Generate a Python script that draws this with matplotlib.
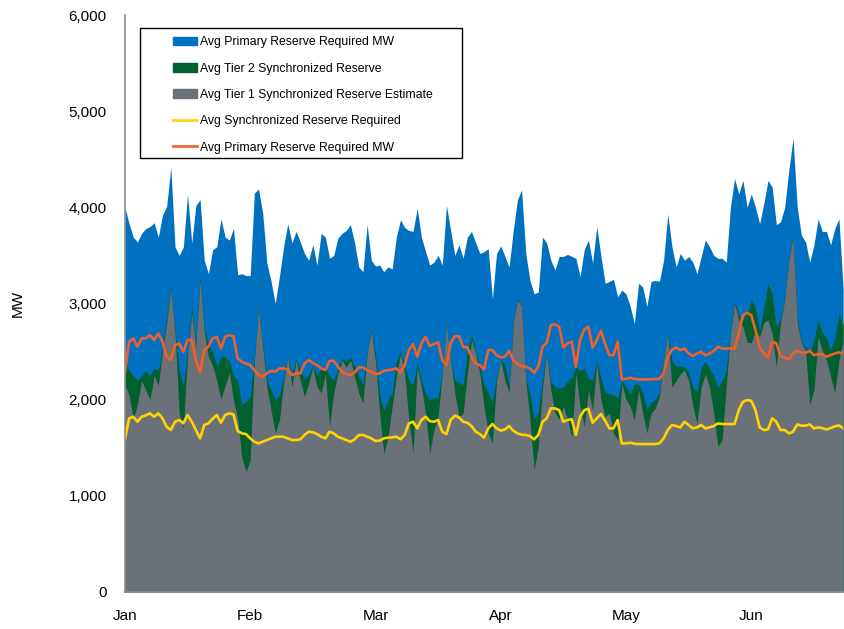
import matplotlib
matplotlib.use("Agg")
import matplotlib.pyplot as plt
from matplotlib.patches import Rectangle, Patch
from matplotlib.lines import Line2D
from matplotlib.ticker import FuncFormatter
import numpy as np

plt.rcParams['font.family'] = ['Liberation Sans', 'DejaVu Sans']

# daily values, Jan 1 onwards (MW)
primary_top = [4000, 3830, 3690, 3640, 3730, 3780, 3800, 3840, 3690, 3920, 4010, 4420, 3590, 3500, 3590, 4140, 3630, 4020, 4080, 3450,
               3310, 3560, 3590, 3880, 3690, 3660, 3780, 3300, 3310, 3290,
               3290, 4150, 4190, 3940, 3420, 3230, 3000, 3280, 3590, 3830, 3630, 3750, 3640, 3520, 3450, 3610, 3400, 3730, 3690, 3470,
               3500, 3680, 3730, 3760, 3820, 3630, 3380, 3330, 3820, 3450,
               3390, 3400, 3330, 3380, 3360, 3690, 3870, 3790, 3760, 3750, 3990, 3690, 3540, 3400, 3430, 3500, 3400, 4020, 3760, 3500,
               3610, 3470, 3690, 3750, 3630, 3520, 3540, 3570, 3050, 3520,
               3600, 3490, 3380, 3760, 4080, 4180, 3520, 3240, 3100, 3120, 3690, 3630, 3450, 3350, 3490, 3490, 3510, 3490, 3470, 3280,
               3560, 3660, 3420, 3800, 3490, 3210, 3230, 3250, 3070, 3140,
               3100, 2970, 2790, 3210, 3170, 2970, 3230, 3240, 3230, 3450, 3930, 3590, 3380, 3520, 3450, 3490, 3430, 3310, 3490, 3660,
               3590, 3500, 3470, 3470, 3430, 4000, 4300, 4140, 4280, 4000,
               4140, 4000, 3830, 4040, 4280, 4210, 3820, 3850, 4000, 4390, 4720, 4000, 3710, 3640, 3430, 3610, 3880, 3750, 3750, 3610,
               3780, 3880, 3150]

tier2_top = [2400, 2300, 2250, 2200, 2250, 2300, 2250, 2330, 2300, 2550, 2850, 3170, 2750, 2300, 2150, 2500, 2950, 2600, 3280, 2750,
             2570, 2500, 2350, 2450, 2450, 2400, 2250, 2200, 1950, 1980,
             2030, 2450, 2960, 2600, 2200, 2100, 2000, 2050, 2230, 2460, 2250, 2430, 2300, 2220, 2250, 2360, 2250, 2330, 2330, 2250,
             2200, 2330, 2430, 2400, 2440, 2350, 2250, 2150, 2500, 2740,
             2480, 2050, 1890, 2000, 2070, 2400, 2500, 2350, 2200, 2150, 2380, 2200, 2060, 2000, 2020, 2020, 2300, 2800, 2420, 2200,
             2180, 2150, 2500, 2680, 2500, 2340, 2150, 2080, 1970, 2230,
             2420, 2360, 2150, 2800, 3050, 2980, 2230, 2050, 1800, 1870, 2200, 2490, 2180, 2140, 2120, 2130, 2200, 2230, 2340, 2300,
             2330, 2220, 2200, 2400, 2220, 2080, 2060, 2050, 2020, 2200,
             2130, 2060, 2160, 2160, 2070, 1900, 1970, 2000, 2080, 2420, 2700, 2400, 2350, 2350, 2340, 2280, 2130, 2080, 2330, 2400,
             2320, 2250, 2130, 2200, 2300, 2720, 3020, 2880, 2830, 2900,
             3040, 2950, 2720, 2950, 3210, 3100, 2760, 2840, 3050, 3460, 3700, 2860, 2600, 2550, 2480, 2620, 2830, 2700, 2640, 2520,
             2640, 2900, 2780]

tier1_top = [2150, 2050, 1800, 1950, 2200, 2100, 2000, 2250, 2150, 2500, 2800, 3150, 2700, 1850, 1700, 2450, 2900, 2550, 3250, 2700,
             2450, 2350, 2200, 2000, 2150, 2280, 2000, 1800, 1400, 1250,
             1370, 2400, 2950, 2550, 2130, 1890, 1650, 1790, 2170, 2450, 2130, 2410, 2200, 2030, 2170, 2340, 2130, 2070, 2270, 1720,
             2070, 2270, 2410, 2340, 2410, 2240, 2070, 1960, 2480, 2720,
             2400, 1860, 1440, 1610, 1930, 2240, 2480, 2270, 1790, 1440, 2340, 2130, 1860, 1440, 1680, 1820, 2270, 2790, 2410, 2070,
             1820, 1860, 2270, 2620, 2480, 2270, 1930, 1650, 1550, 2200,
             2410, 2200, 2070, 2790, 3040, 2970, 2200, 1790, 1270, 1510, 2130, 2480, 2100, 1860, 1800, 1930, 1790, 1610, 2270, 1930,
             1720, 2100, 1890, 2380, 2000, 1820, 1860, 1650, 1580, 2170,
             2000, 1930, 1790, 2100, 1860, 1650, 1860, 1910, 2030, 2410, 2690, 2130, 2200, 2270, 2310, 2200, 1930, 1750, 2130, 2270,
             2130, 1860, 1510, 1580, 2130, 2690, 3000, 2830, 2760, 2600,
             2590, 2720, 2650, 2800, 2830, 2690, 2340, 2800, 3040, 3450, 3690, 2800, 2590, 2510, 1950, 2100, 2650, 2510, 2410, 2240,
             2070, 2410, 2620]

sync_required = [1580, 1805, 1822, 1770, 1822, 1836, 1857, 1822, 1857, 1805, 1718, 1684, 1770, 1788, 1753, 1840, 1770, 1684, 1597, 1736,
                 1753, 1800, 1840, 1760, 1840, 1857, 1846, 1673, 1649, 1642,
                 1597, 1562, 1545, 1562, 1580, 1597, 1614, 1614, 1614, 1597, 1580, 1580, 1587, 1632, 1666, 1660, 1642, 1614, 1597, 1666,
                 1649, 1614, 1597, 1580, 1562, 1587, 1632, 1632, 1614, 1597,
                 1569, 1573, 1597, 1604, 1607, 1614, 1587, 1632, 1753, 1770, 1701, 1788, 1822, 1777, 1770, 1788, 1666, 1642, 1788, 1833,
                 1815, 1770, 1760, 1725, 1666, 1642, 1604, 1701, 1746, 1701,
                 1677, 1690, 1725, 1677, 1649, 1635, 1632, 1621, 1587, 1632, 1770, 1805, 1909, 1909, 1891, 1770, 1788, 1798, 1632, 1822,
                 1891, 1905, 1760, 1805, 1850, 1780, 1701, 1701, 1788, 1545,
                 1545, 1552, 1541, 1538, 1538, 1538, 1538, 1538, 1545, 1597, 1684, 1736, 1725, 1711, 1770, 1736, 1701, 1711, 1736, 1701,
                 1711, 1725, 1753, 1746, 1746, 1746, 1746, 1891, 1978, 1995,
                 1988, 1891, 1711, 1684, 1690, 1805, 1770, 1684, 1684, 1649, 1666, 1742, 1729, 1729, 1742, 1701, 1711, 1704, 1690, 1704,
                 1722, 1732, 1701]

primary_required = [2280, 2602, 2637, 2550, 2637, 2637, 2671, 2620, 2689, 2602, 2446, 2411, 2567, 2585, 2498, 2620, 2620, 2411, 2280, 2515,
                    2550, 2637, 2654, 2532, 2654, 2671, 2660, 2428, 2394, 2376,
                    2359, 2307, 2255, 2238, 2273, 2300, 2290, 2325, 2325, 2314, 2255, 2273, 2273, 2376, 2411, 2383, 2359, 2325, 2307, 2404,
                    2404, 2342, 2290, 2266, 2255, 2283, 2335, 2335, 2307, 2290,
                    2266, 2273, 2300, 2307, 2314, 2325, 2280, 2359, 2515, 2578, 2446, 2585, 2654, 2557, 2578, 2598, 2411, 2359, 2585, 2660,
                    2660, 2550, 2543, 2446, 2376, 2359, 2314, 2515, 2515, 2463,
                    2440, 2446, 2508, 2411, 2370, 2349, 2342, 2325, 2280, 2342, 2550, 2591, 2775, 2785, 2758, 2543, 2585, 2602, 2342, 2620,
                    2730, 2758, 2543, 2620, 2716, 2578, 2463, 2463, 2602, 2210,
                    2217, 2228, 2217, 2210, 2210, 2210, 2210, 2214, 2217, 2273, 2439, 2522, 2543, 2515, 2532, 2480, 2453, 2480, 2498, 2460,
                    2480, 2505, 2550, 2532, 2532, 2532, 2532, 2688, 2879, 2903,
                    2879, 2723, 2540, 2480, 2439, 2602, 2585, 2453, 2439, 2418, 2480, 2508, 2491, 2487, 2508, 2463, 2474, 2474, 2446, 2463,
                    2480, 2491, 2480]

month_labels = ['Jan', 'Feb', 'Mar', 'Apr', 'May', 'Jun']

c_blue = '#0070C0'
c_green = '#00602F'
c_gray = '#6B7179'
c_yellow = '#FFD200'
c_orange = '#F0602A'

days = np.arange(len(primary_top))

fig = plt.figure(figsize=(8.44, 6.29), dpi=100)
ax = fig.add_axes([0.148, 0.059, 0.851, 0.917])

ax.fill_between(days, 0, primary_top, color=c_blue, lw=0)
ax.fill_between(days, 0, tier2_top, color=c_green, lw=0)
ax.fill_between(days, 0, tier1_top, color=c_gray, lw=0)
ax.plot(days, sync_required, color=c_yellow, lw=1.9)
ax.plot(days, primary_required, color=c_orange, lw=1.9)

ax.set_xlim(0, len(days) - 1)
ax.set_ylim(0, 6000)
ax.set_yticks(range(0, 6001, 1000))
ax.yaxis.set_major_formatter(FuncFormatter(lambda v, p: f'{int(v):,}'))
ax.set_xticks(range(0, 30 * len(month_labels), 30))
ax.set_xticklabels(month_labels)
ax.tick_params(axis='both', length=0, labelsize=11, colors='black')
ax.tick_params(axis='y', pad=13)
ax.tick_params(axis='x', pad=12)

for s in ['top', 'right']:
    ax.spines[s].set_visible(False)
for s in ['left', 'bottom']:
    ax.spines[s].set_color('#8C8C8C')
    ax.spines[s].set_linewidth(1.2)

fig.text(18 / 844, 1 - 303 / 629, 'MW', rotation=90, ha='center', va='center', fontsize=11)

handles = [Patch(color=c_blue), Patch(color=c_green), Patch(color=c_gray),
           Line2D([], [], color=c_yellow, lw=1.9), Line2D([], [], color=c_orange, lw=1.9)]
labels = ['Avg Primary Reserve Required MW', 'Avg Tier 2 Synchronized Reserve',
          'Avg Tier 1 Synchronized Reserve Estimate', 'Avg Synchronized Reserve Required',
          'Avg Primary Reserve Required MW']
leg = ax.legend(handles, labels, loc='upper left', bbox_to_anchor=(0.067, 0.963), frameon=False,
                fontsize=8.8, handlelength=2.0, handleheight=0.7, handletextpad=0.2,
                labelspacing=1.17, borderpad=0, borderaxespad=0)

# legend frame
fig.patches.append(Rectangle((140 / 844, 1 - 158 / 629), 322 / 844, 130 / 629,
                             transform=fig.transFigure, fill=False, edgecolor='black', lw=1.0))

fig.savefig('out.png', dpi=100)
